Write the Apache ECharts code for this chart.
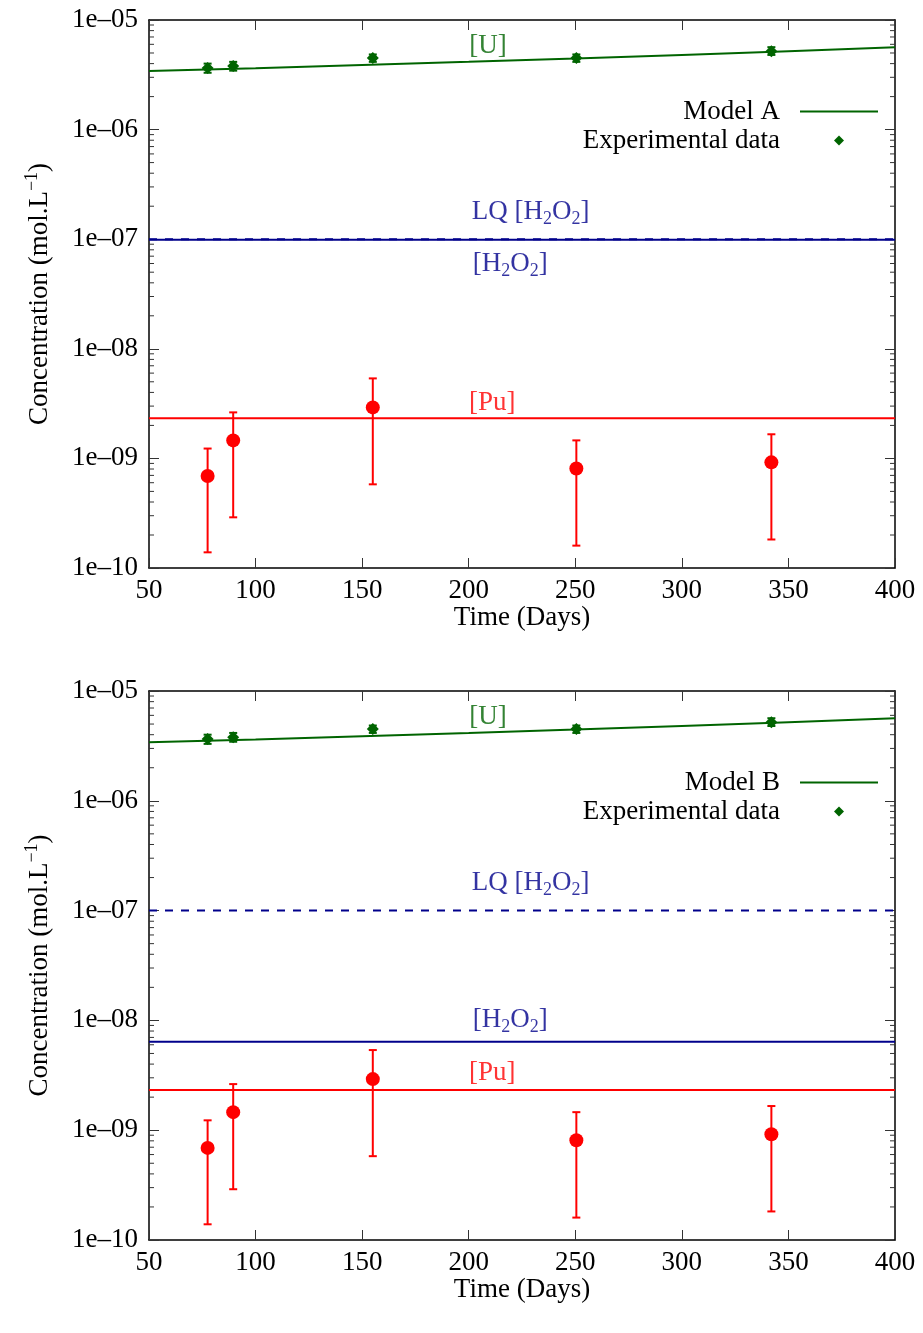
<!DOCTYPE html>
<html><head><meta charset="utf-8">
<script src="https://cdn.jsdelivr.net/npm/echarts@6/dist/echarts.min.js"></script>
<style>html,body{margin:0;padding:0;background:#fff}#c{width:923px;height:1333px}</style>
</head><body><div id="c"></div>
<script>
// ---- data ----
const expDays = [77.5, 89.5, 155, 250.5, 342];
const uConc = [3.65e-6, 3.8e-6, 4.5e-6, 4.5e-6, 5.2e-6];
const uLow  = [3.3e-6, 3.45e-6, 4.15e-6, 4.15e-6, 4.8e-6];
const uHigh = [4.0e-6, 4.15e-6, 4.85e-6, 4.85e-6, 5.65e-6];
const puConc = [6.9e-10, 1.46e-9, 2.92e-9, 8.1e-10, 9.2e-10];
const puLow  = [1.39e-10, 2.9e-10, 5.8e-10, 1.6e-10, 1.82e-10];
const puHigh = [1.23e-9, 2.63e-9, 5.37e-9, 1.46e-9, 1.66e-9];
const modelDays = [50, 100, 150, 200, 250, 300, 350, 400];
const modelU = [3.42e-6, 3.62e-6, 3.88e-6, 4.15e-6, 4.45e-6, 4.8e-6, 5.2e-6, 5.65e-6];
const modelPu = [2.32e-9, 2.32e-9, 2.32e-9, 2.32e-9, 2.32e-9, 2.32e-9, 2.32e-9, 2.32e-9];
const lqH2O2 = 1e-7;
const h2o2A = 9.9e-8;
const h2o2B = 6.4e-9;
const modelNames = ['Model A', 'Model B'];
const xTicks = [50, 100, 150, 200, 250, 300, 350, 400];
const yMin = 1e-10, yMax = 1e-5;

// ---- styles ----
const FONT = '"Liberation Serif", "DejaVu Serif", serif';
const FS = 27, SFS = 18;
const GREEN = '#006400', BLUE = '#00008b', RED = '#ff0000';
const grids = [{left:149, right:28, top:20, height:548}, {left:149, right:28, top:691, height:549}];

const minorVals = [];
for (let e = -10; e <= -6; e++) for (let m = 2; m <= 9; m++) minorVals.push(m * Math.pow(10, e));

function fmtY(v){ const e = Math.round(Math.log10(v)); const a = Math.abs(e); return '1e' + (e<0?'–':'') + (a<10?'0':'') + a; }

const xAxes = [], yAxes = [], series = [], legends = [];
const sub = {fontSize:SFS, fontFamily:FONT, padding:[14,0,0,0]};

grids.forEach((g, gi) => {
  const xb = xAxes.length, yb = yAxes.length;
  xAxes.push({type:'value', gridIndex:gi, min:50, max:400, interval:50, position:'bottom',
    axisLine:{onZero:false, lineStyle:{color:'#000', width:1.5}}, splitLine:{show:false},
    axisTick:{inside:true, length:10, lineStyle:{color:'#333'}},
    axisLabel:{fontFamily:FONT, fontSize:FS, color:'#000', margin:9},
    name:'Time (Days)', nameLocation:'middle', nameGap:36, nameTextStyle:{fontFamily:FONT, fontSize:FS, color:'#000'}});
  xAxes.push({type:'value', gridIndex:gi, min:50, max:400, interval:50, position:'top',
    axisLine:{onZero:false, lineStyle:{color:'#000', width:1.5}}, splitLine:{show:false},
    axisTick:{inside:true, length:10, lineStyle:{color:'#333'}}, axisLabel:{show:false}});
  yAxes.push({type:'log', logBase:10, gridIndex:gi, min:yMin, max:yMax, interval:1, position:'left',
    axisLine:{lineStyle:{color:'#000', width:1.5}}, splitLine:{show:false},
    axisTick:{inside:true, length:10, lineStyle:{color:'#333'}},
    axisLabel:{fontFamily:FONT, fontSize:FS, color:'#000', margin:11, formatter:fmtY},
    name:'{n|Concentration (mol.L}{s|−1}{n|)}', nameLocation:'middle', nameGap:92, nameRotate:90,
    nameTextStyle:{color:'#000', rich:{n:{fontFamily:FONT, fontSize:FS, color:'#000'}, s:{fontFamily:FONT, fontSize:SFS, color:'#000', padding:[0,0,16,0]}}}});
  yAxes.push({type:'log', logBase:10, gridIndex:gi, min:yMin, max:yMax, interval:1, position:'right',
    axisLine:{lineStyle:{color:'#000', width:1.5}}, splitLine:{show:false},
    axisTick:{inside:true, length:10, lineStyle:{color:'#333'}}, axisLabel:{show:false}});
  const ax = {xAxisIndex:xb, yAxisIndex:yb};
  const h2o2 = gi === 0 ? h2o2A : h2o2B;

  series.push(Object.assign({type:'line', name:modelNames[gi], symbol:'none', data:modelDays.map((d,i)=>[d, modelU[i]]),
    lineStyle:{color:GREEN, width:2}, itemStyle:{color:GREEN}, z:3}, ax));
  series.push(Object.assign({type:'line', name:'H2O2 '+gi, symbol:'none', data:[[50,h2o2],[400,h2o2]],
    lineStyle:{color:BLUE, width:2}, z:3}, ax));
  series.push(Object.assign({type:'line', name:'LQ '+gi, symbol:'none', data:[[50,lqH2O2],[400,lqH2O2]],
    lineStyle:{color:BLUE, width:2, type:[8,8]}, z:4}, ax));
  series.push(Object.assign({type:'line', name:'Pu model '+gi, symbol:'none', data:modelDays.map((d,i)=>[d, modelPu[i]]),
    lineStyle:{color:RED, width:2}, z:3}, ax));
  const errRender = (color) => function(params, api){
    const x = api.value(0);
    const p1 = api.coord([x, api.value(1)]), p2 = api.coord([x, api.value(2)]);
    const st = {stroke:color, lineWidth:2};
    return {type:'group', children:[
      {type:'line', shape:{x1:p1[0], y1:p1[1], x2:p2[0], y2:p2[1]}, style:st},
      {type:'line', shape:{x1:p1[0]-4, y1:p1[1], x2:p1[0]+4, y2:p1[1]}, style:st},
      {type:'line', shape:{x1:p2[0]-4, y1:p2[1], x2:p2[0]+4, y2:p2[1]}, style:st}]};
  };
  series.push(Object.assign({type:'custom', name:'U err '+gi, data:expDays.map((d,i)=>[d, uLow[i], uHigh[i]]),
    renderItem:errRender(GREEN), z:5}, ax));
  series.push(Object.assign({type:'scatter', name:'Experimental data', symbol:'diamond', symbolSize:12,
    data:expDays.map((d,i)=>[d, uConc[i]]), itemStyle:{color:GREEN, opacity:1}, z:6}, ax));
  series.push(Object.assign({type:'custom', name:'Pu err '+gi, data:expDays.map((d,i)=>[d, puLow[i], puHigh[i]]),
    renderItem:errRender(RED), z:5}, ax));
  series.push(Object.assign({type:'scatter', name:'Pu exp '+gi, symbol:'circle', symbolSize:14,
    data:expDays.map((d,i)=>[d, puConc[i]]), itemStyle:{color:RED, opacity:1}, z:6}, ax));
  // minor ticks
  series.push(Object.assign({type:'custom', name:'minor '+gi, data:minorVals.map(v=>[50, v]), silent:true,
    renderItem:function(params, api){
      const pl = api.coord([50, api.value(1)]), pr = api.coord([400, api.value(1)]);
      const st = {stroke:'#333', lineWidth:1};
      return {type:'group', children:[
        {type:'line', shape:{x1:pl[0], y1:pl[1], x2:pl[0]+5, y2:pl[1]}, style:st},
        {type:'line', shape:{x1:pr[0]-5, y1:pr[1], x2:pr[0], y2:pr[1]}, style:st}]};
    }, z:2}, ax));
  // text labels
  const labs = [
    {value:[209, 5.8e-6], label:{formatter:'{n|[U]}'}},
    {value:[229, 1.77e-7], label:{formatter:'{n|LQ [H}{s|2}{n|O}{s|2}{n|]}'}},
    {value:[219.5, gi===0 ? 5.9e-8 : 1.0e-8], label:{formatter:'{n|[H}{s|2}{n|O}{s|2}{n|]}'}},
    {value:[211, gi===0 ? 3.24e-9 : 3.34e-9], label:{formatter:'{n|[Pu]}'}}
  ];
  const cols = [GREEN, BLUE, BLUE, RED];
  labs.forEach((l,i)=>{ l.label.rich = {n:{fontFamily:FONT, fontSize:FS, color:cols[i]}, s:Object.assign({color:cols[i]}, sub)}; });
  series.push(Object.assign({type:'scatter', name:'labels '+gi, symbolSize:1, itemStyle:{color:'transparent'}, silent:true,
    label:{show:true, position:'inside'}, data:labs, z:7}, ax));

  legends.push({data:[
      {name:modelNames[gi], icon:'path://M0,0 L78,0 L78,2 L0,2 Z'},
      {name:'Experimental data', icon:'path://M5,0 L10,5 L5,10 L0,5 Z'}],
    orient:'vertical', align:'right', right:40, symbolKeepAspect:true,
    top: gi===0 ? 93 : 764, itemWidth:78, itemHeight:10, itemGap:2, selectedMode:false,
    textStyle:{fontFamily:FONT, fontSize:FS, color:'#000', padding:[0,15,0,0]}});
});

const chart = echarts.init(document.getElementById('c'), null, {renderer:'canvas'});
chart.setOption({animation:false, backgroundColor:'#fff', grid:grids, xAxis:xAxes, yAxis:yAxes, series:series, legend:legends});
</script></body></html>
